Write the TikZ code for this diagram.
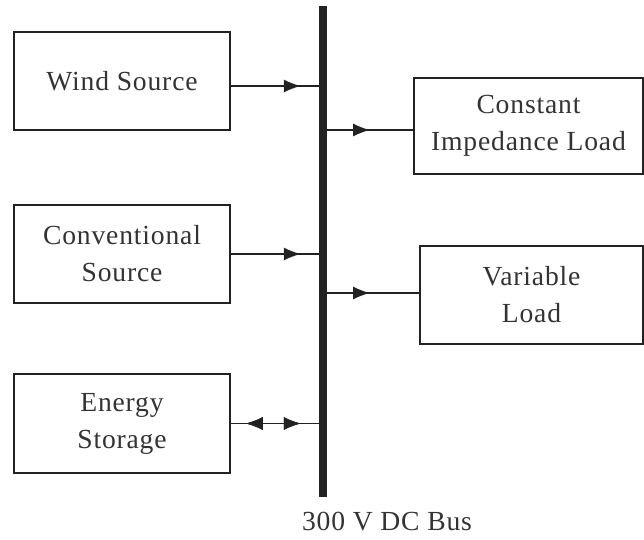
\documentclass[tikz,border=0pt]{standalone}
\usepackage{fontspec}
\setmainfont[LetterSpace=3]{Liberation Serif}
\usepackage{xcolor}
\usetikzlibrary{arrows.meta,decorations.markings}

\definecolor{ink}{HTML}{222222}
\definecolor{txt}{HTML}{333333}

\begin{document}
\begin{tikzpicture}[
  x=0.5pt, y=-0.5pt,
  blk/.style={draw=ink, line width=0.75pt, minimum width=108pt, minimum height=49pt,
              font=\fontsize{13.8}{18.5}\selectfont, text=txt, align=center, inner sep=0pt},
  tipat/.style={postaction={decorate}, decoration={markings,
                mark=at position #1 with {\arrow{Latex[length=8.5pt,width=6.5pt]}}}},
  tipback/.style={postaction={decorate}, decoration={markings,
                mark=at position #1 with {\arrowreversed{Latex[length=8.5pt,width=6.5pt]}}}},
  link/.style={draw=ink, line width=0.65pt}
]
  \useasboundingbox (0,0) rectangle (644,540);

  % Bus
  \coordinate (bustop) at (323,6);
  \coordinate (busbot) at (323,497);
  \draw[ink, line width=4pt] (bustop) -- (busbot);
  \node[font=\fontsize{13.8}{16}\selectfont, text=txt] (buslbl) at (387,522) {300 V DC Bus};

  % Sources
  \node[blk] (wind) at (122,81) {Wind Source};
  \node[blk] (conv) at (122,254) {Conventional\\Source};
  \node[blk, minimum height=49.5pt] (stor) at (122,423.5) {Energy\\Storage};

  % Loads
  \node[blk, minimum width=114.5pt, minimum height=48pt] (cload) at (528.5,126)
    {Constant\\Impedance Load};
  \node[blk, minimum width=111.5pt] (vload) at (531.5,295) {Variable\\Load};

  % Taps on the bus
  \coordinate (tapw) at (323,86);
  \coordinate (tapc) at (323,130);
  \coordinate (tapv) at (323,293);

  \draw[link, tipat=35pt] (tapw -| wind.east) -- (tapw);
  \draw[link, tipat=35pt] (conv.east) -- (conv.east -| bustop);
  \draw[link, tipat=35pt, tipback=7.5pt] (stor.east) -- (stor.east -| bustop);
  \draw[link, tipat=23.5pt] (tapc) -- (tapc -| cload.west);
  \draw[link, tipat=23.5pt] (tapv) -- (tapv -| vload.west);
\end{tikzpicture}
\end{document}
